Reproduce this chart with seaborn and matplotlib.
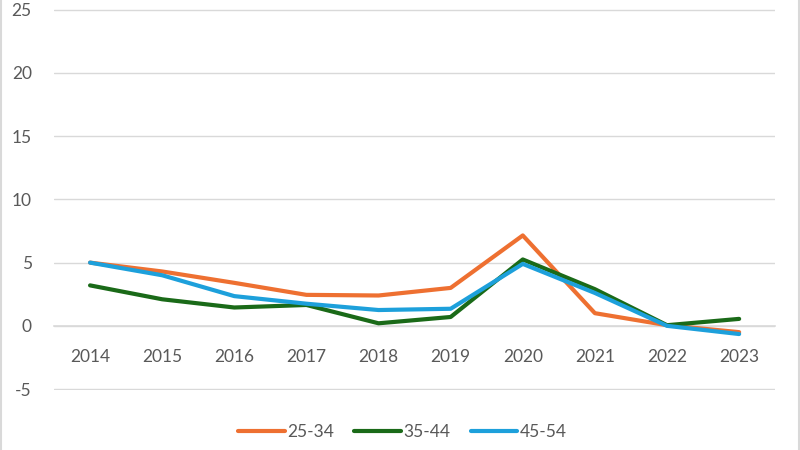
import matplotlib
matplotlib.use("Agg")
import matplotlib.pyplot as plt
from matplotlib.lines import Line2D
import seaborn as sns
import pandas as pd

years = [2014, 2015, 2016, 2017, 2018, 2019, 2020, 2021, 2022, 2023]
series_names = ["25-34", "35-44", "45-54"]
v_25_34 = [5.0, 4.3, 3.4, 2.45, 2.4, 3.0, 7.15, 1.0, 0.05, -0.5]
v_35_44 = [3.2, 2.1, 1.45, 1.65, 0.2, 0.7, 5.25, 2.9, 0.05, 0.55]
v_45_54 = [5.0, 4.0, 2.35, 1.75, 1.25, 1.35, 4.9, 2.6, 0.0, -0.65]
colors = ["#EE7031", "#1A6A18", "#1DA0DB"]
y_ticks = [-5, 0, 5, 10, 15, 20, 25]

df = pd.DataFrame({
    "year": years * 3,
    "value": v_25_34 + v_35_44 + v_45_54,
    "group": [series_names[0]] * len(years) + [series_names[1]] * len(years) + [series_names[2]] * len(years),
})

sns.set_theme(style="white")
plt.rcParams["font.family"] = ["Lato", "DejaVu Sans"]

fig = plt.figure(figsize=(8, 4.5), dpi=100)
ax = fig.add_axes([0.0675, 0.1335, 0.9015, 0.8456])

sns.lineplot(data=df, x="year", y="value", hue="group", hue_order=series_names,
             palette=colors, linewidth=3.0, ax=ax, legend=False)

ax.set_xlim(years[0] - 0.5, years[-1] + 0.5)
ax.set_ylim(-5.07, 25.03)
ax.set_yticks(y_ticks)
ax.set_yticklabels([str(t) for t in y_ticks])
ax.set_xticks(years)
ax.set_xticklabels([str(y) for y in years])
ax.set_xticks([years[0] - 0.5 + i for i in range(len(years) + 1)], minor=True)
ax.set_xlabel("")
ax.set_ylabel("")

grid_c = "#D9D9D9"
ax.grid(axis="y", color=grid_c, linewidth=1.0)
ax.grid(axis="x", visible=False)
for s in ["top", "right", "left"]:
    ax.spines[s].set_visible(False)
ax.spines["bottom"].set_position(("data", 0))
ax.spines["bottom"].set_color(grid_c)
ax.spines["bottom"].set_linewidth(1.2)
ax.spines["bottom"].set_zorder(1)

ax.tick_params(axis="x", which="major", length=0, pad=17, labelsize=12.5, labelcolor="#595959")
ax.tick_params(axis="x", which="minor", length=5, direction="in", color=grid_c, width=1.0)
ax.tick_params(axis="y", length=0, pad=16, labelsize=12.5, labelcolor="#595959")

handles = [Line2D([0], [0], color=c, linewidth=3.0, solid_capstyle="round") for c in colors]
fig.legend(handles, series_names, loc="center", bbox_to_anchor=(0.503, 0.04), ncol=3,
           frameon=False, fontsize=12.5, labelcolor="#595959", handlelength=2.7,
           handletextpad=0.15, columnspacing=1.15)

fig.add_artist(Line2D([0.0015, 0.0015], [0, 1], transform=fig.transFigure, color=grid_c, linewidth=1.5))
fig.add_artist(Line2D([0.9985, 0.9985], [0, 1], transform=fig.transFigure, color=grid_c, linewidth=1.5))

fig.savefig("out.png", dpi=100)
